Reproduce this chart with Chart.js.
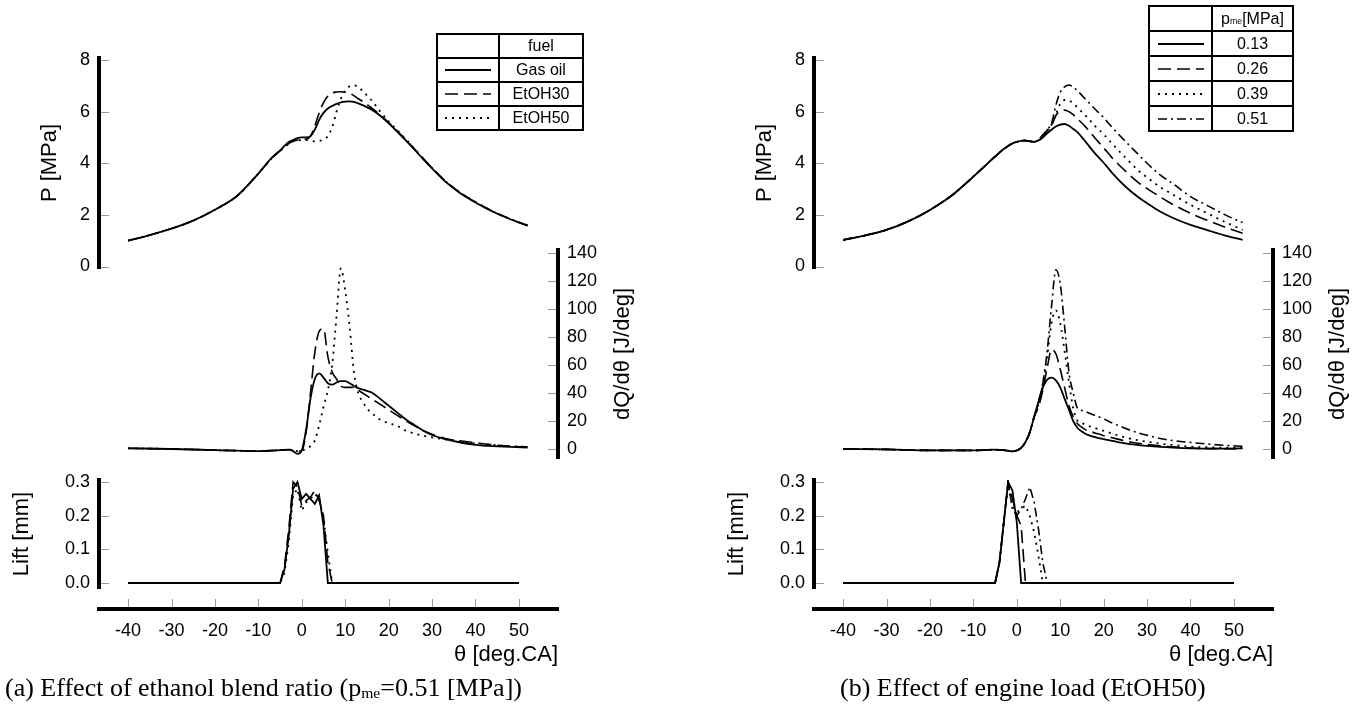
<!DOCTYPE html>
<html>
<head>
<meta charset="utf-8">
<title>Cylinder pressure, heat release and needle lift</title>
<script src="https://cdn.jsdelivr.net/npm/chart.js@4.4.1/dist/chart.umd.min.js"></script>
<style>
  html, body { margin: 0; background: #fff; }
  #page { position: relative; width: 1367px; height: 711px; overflow: hidden; background: #fff; }
  #page canvas { position: absolute; }
  .legend { position: absolute; border-collapse: collapse; font: 16px "Liberation Sans", Arial, sans-serif; color: #000; }
  .legend td { border: 2px solid #000; padding: 0; text-align: center; line-height: 1; }
  .legend svg { display: block; margin: 0 auto; }
  .legend sub { font-size: 0.55em; vertical-align: baseline; position: relative; top: 0.1em; }
  .caption { position: absolute; font: 26px "Liberation Serif", "Times New Roman", serif; white-space: nowrap; color: #000; line-height: 32px; }
  .caption sub { font-size: 0.6em; vertical-align: baseline; position: relative; top: 0.15em; }
</style>
</head>
<body>
<div id="page"></div>
<script>
// ---------- (a) effect of ethanol blend ratio ----------
const fuelsA = ['Gas oil', 'EtOH30', 'EtOH50'];

const thetaA_P = [-40,-35,-30,-25,-20,-15,-10,-7,-5,-3,-2,-1,0,1,2,3,4,5,6,7,8,9,10,11,12,13,14,16,18,20,22,25,28,30,33,36,40,44,48,52];
const pA_GasOil = [1.0,1.22,1.47,1.78,2.2,2.72,3.6,4.2,4.5,4.82,4.9,4.97,5.0,5.0,5.05,5.3,5.68,5.95,6.12,6.22,6.3,6.36,6.39,6.4,6.38,6.32,6.25,6.08,5.85,5.55,5.22,4.7,4.15,3.8,3.3,2.9,2.48,2.12,1.83,1.58];
const pA_EtOH30 = [1.0,1.22,1.47,1.78,2.2,2.72,3.6,4.18,4.48,4.76,4.86,4.9,4.92,4.93,5.05,5.45,5.95,6.35,6.6,6.72,6.76,6.77,6.75,6.7,6.62,6.5,6.4,6.15,5.88,5.58,5.25,4.72,4.18,3.82,3.32,2.92,2.5,2.14,1.84,1.59];
const pA_EtOH50 = [1.0,1.22,1.47,1.78,2.2,2.72,3.6,4.18,4.48,4.75,4.85,4.88,4.9,4.9,4.88,4.85,4.87,4.92,5.05,5.4,6.0,6.5,6.82,6.98,7.02,6.95,6.8,6.45,6.02,5.62,5.28,4.74,4.18,3.82,3.32,2.92,2.5,2.14,1.84,1.59];

const thetaA_Q = [-40,-30,-20,-15,-10,-5,-3,-2,-1,0,1,2,3,4,5,6,7,8,9,10,11,12,13,14,15,16,18,20,22,24,26,28,30,33,36,40,44,48,52];
const qA_GasOil = [0.5,0,-0.8,-1.2,-1.5,-0.8,-0.5,-1.5,-3.5,-1,14,36,50,54,51,47,46,47.5,48.5,48.5,47,45,43.5,42.5,41.5,40.5,36,31,26,21,17,13,10,7,5,3,2,1.5,1];
const qA_EtOH30 = [0.5,0,-0.8,-1.2,-1.5,-0.8,-0.5,-1,-1.5,-1,12,40,69,84,86,66,55,50,45,44,44,44,42,40,38,36,32,28,24,20,16.5,13,10.5,7.5,6,4.5,3,2,1.5];
const qA_EtOH50 = [0.5,0,-0.8,-1.2,-1.5,-0.8,-0.5,-1,-1.5,-1,0,2,6,17,30,42,60,95,129,113,88,55,40,34,29,26,21,18.5,16.5,13,11,9.5,8.3,6.8,5.5,4,3,2,1.5];

const thetaLift = [-40,-5,-4,-3,-2,-1,0,1,2,3,4,5,6,7,50];
const lA_GasOil = [0,0,0.04,0.14,0.28,0.3,0.25,0.265,0.25,0.235,0.26,0.17,0,0,0];
const lA_EtOH30 = [0,0,0.05,0.16,0.3,0.285,0.23,0.245,0.255,0.275,0.245,0.2,0.06,0,0];
const lA_EtOH50 = [0,0,0.03,0.12,0.26,0.28,0.215,0.24,0.25,0.265,0.25,0.19,0.09,0,0];

// ---------- (b) effect of engine load (EtOH50) ----------
const loadsB = ['0.13', '0.26', '0.39', '0.51'];

const thetaB_P = [-40,-35,-30,-25,-20,-15,-10,-7,-5,-3,-1,0,1,2,3,4,5,6,7,8,9,10,11,12,13,14,16,18,20,22,25,28,30,33,36,40,44,48,52];
const pB_013 = [1.03,1.2,1.42,1.75,2.19,2.75,3.48,3.95,4.26,4.55,4.77,4.83,4.87,4.88,4.85,4.83,4.88,5.0,5.16,5.3,5.42,5.5,5.52,5.45,5.33,5.2,4.8,4.38,4.02,3.62,3.1,2.68,2.45,2.13,1.88,1.61,1.4,1.2,1.03];
const pB_026 = [1.03,1.2,1.42,1.75,2.19,2.75,3.48,3.95,4.26,4.55,4.77,4.83,4.87,4.88,4.85,4.83,4.9,5.05,5.25,5.45,5.85,6.02,6.06,6.0,5.88,5.72,5.38,4.98,4.6,4.2,3.7,3.25,3.02,2.7,2.4,2.06,1.78,1.52,1.29];
const pB_039 = [1.03,1.2,1.42,1.75,2.19,2.75,3.48,3.95,4.26,4.55,4.77,4.83,4.87,4.88,4.85,4.83,4.9,5.08,5.3,5.5,5.9,6.3,6.45,6.43,6.32,6.15,5.82,5.45,5.12,4.75,4.22,3.72,3.45,3.08,2.78,2.39,2.05,1.72,1.42];
const pB_051 = [1.03,1.2,1.42,1.75,2.19,2.75,3.48,3.95,4.26,4.55,4.77,4.83,4.87,4.88,4.85,4.83,4.92,5.1,5.3,5.55,6.25,6.75,6.96,7.03,6.95,6.8,6.45,6.1,5.77,5.38,4.85,4.34,4.0,3.55,3.2,2.71,2.35,2.0,1.7];

const thetaB_Q = [-40,-30,-20,-10,-5,-3,-1,0,1,2,3,4,5,6,7,8,9,10,11,12,13,14,15,16,18,20,22,24,26,28,30,33,36,40,44,48,52];
const qB_013 = [0,-0.3,-1,-1,-0.5,-0.8,-1.7,-1,0.8,5,12,23,34,44,49.5,51,49,44,36,28,20,15,12.5,10.5,8.5,7,5.8,4.5,3.5,2.8,2.2,1.5,1,0.5,0.3,0.3,0.5];
const qB_026 = [0,-0.3,-1,-1,-0.5,-0.8,-1.7,-1,0.8,5,12,23,30,42,58,71,68,57,44,31,23,18,15.5,13.5,11.5,9.5,8,6.5,5,4,3.2,2.2,1.5,0.7,0.3,0.2,0];
const qB_039 = [0,-0.3,-1,-1,-0.5,-0.8,-1.7,-1,0.8,5,12,23,32,47,66,90,99,90,70,48,29,20,18.5,17,15,13,11,9,7.5,6.2,5.2,3.8,2.8,1.7,1.2,0.9,0.7];
const qB_051 = [0,-0.3,-1,-1,-0.5,-0.8,-1.7,-1,0.8,5,12,23,33,47,70,102,128,118,88,55,40,29,27.5,26.5,24,21.5,18.5,16,13.5,11.5,9.8,7.5,6,4.7,3.5,2.6,1.9];

const lB_013 = [0,0,0.06,0.18,0.3,0.275,0.18,0,0,0,0,0,0,0,0];
const lB_026 = [0,0,0.06,0.18,0.3,0.25,0.2,0.17,0,0,0,0,0,0,0];
const lB_039 = [0,0,0.06,0.18,0.29,0.23,0.21,0.22,0.23,0.2,0.15,0.08,0,0,0];
const lB_051 = [0,0,0.06,0.18,0.3,0.22,0.2,0.22,0.25,0.285,0.24,0.16,0.06,0,0];

// ---------- axis ticks ----------
const thetaTicks = [-40,-30,-20,-10,0,10,20,30,40,50];
const pTicks = [0,2,4,6,8];
const dqTicks = [0,20,40,60,80,100,120,140];
const liftTicks = [0,0.1,0.2,0.3];

// ---------- setup ----------
const FONT = '"Liberation Sans", Arial, Helvetica, sans-serif';
Chart.defaults.font.family = FONT;
Chart.defaults.color = '#000';

const LINE_STYLES = [
  { dash: [], width: 1.8 },
  { dash: [13, 6], width: 1.6 },
  { dash: [2, 5], width: 1.8 },
  { dash: [9, 4, 2, 4], width: 1.6 }
];
const X_MIN = -46.7, X_MAX = 59;
const TICK_SIZE = 18, TITLE_SIZE = 22;

const page = document.getElementById('page');

function canvasAt(left, top, w, h) {
  const c = document.createElement('canvas');
  c.width = w; c.height = h;
  c.style.left = left + 'px'; c.style.top = top + 'px';
  c.style.width = w + 'px'; c.style.height = h + 'px';
  page.appendChild(c);
  return c;
}

function toSeries(labels, theta, values, smooth) {
  return values.map((arr, k) => ({
    label: labels[k],
    data: theta.map((t, i) => ({ x: t, y: arr[i] })),
    borderColor: '#000',
    borderWidth: LINE_STYLES[k].width,
    borderDash: LINE_STYLES[k].dash,
    pointRadius: 0,
    fill: false,
    tension: smooth ? 0.4 : 0,
    cubicInterpolationMode: smooth ? 'monotone' : 'default'
  }));
}

// short grey tick marks pointing into the plot
const innerTicks = {
  id: 'innerTicks',
  afterDraw(chart) {
    const ctx = chart.ctx;
    ctx.save();
    ctx.strokeStyle = '#9a9a9a';
    ctx.lineWidth = 1;
    Object.values(chart.scales).forEach(s => {
      if (s.options.display === false) return;
      s.ticks.forEach(t => {
        const p = Math.round(s.getPixelForValue(t.value)) + 0.5;
        ctx.beginPath();
        if (s.position === 'left') { ctx.moveTo(s.right + 2, p); ctx.lineTo(s.right + 10, p); }
        else if (s.position === 'right') { ctx.moveTo(s.left - 2, p); ctx.lineTo(s.left - 10, p); }
        else { ctx.moveTo(p, s.top - 2); ctx.lineTo(p, s.top - 10); }
        ctx.stroke();
      });
    });
    ctx.restore();
  }
};

// right-hand axis title that reads bottom to top
const flipTitle = {
  id: 'flipTitle',
  afterDraw(chart, args, opts) {
    if (!opts.text) return;
    const s = chart.scales.y;
    const ctx = chart.ctx;
    ctx.save();
    ctx.font = opts.size + 'px ' + FONT;
    ctx.fillStyle = '#000';
    ctx.textAlign = 'center';
    ctx.textBaseline = 'middle';
    ctx.translate(s.left + opts.offset, (s.top + s.bottom) / 2);
    ctx.rotate(-Math.PI / 2);
    ctx.fillText(opts.text, 0, 0);
    ctx.restore();
  }
};

const hiddenX = { type: 'linear', min: X_MIN, max: X_MAX, display: false };

function yScale({ pos, min, max, ticks, fmt, width, title, titlePad }) {
  return {
    type: 'linear', position: pos, min, max,
    afterBuildTicks: s => { s.ticks = ticks.map(v => ({ value: v })); },
    afterFit: s => { s.width = width; },
    grid: { display: false, drawTicks: false },
    border: { display: true, width: 4, color: '#000' },
    ticks: { padding: 9, font: { size: TICK_SIZE }, color: '#000', callback: fmt },
    title: title
      ? { display: true, text: title, font: { size: TITLE_SIZE }, padding: { top: titlePad, bottom: 0 }, color: '#000' }
      : { display: false }
  };
}

function baseOptions(padding, scales, pluginOpts) {
  return {
    responsive: false,
    animation: false,
    devicePixelRatio: 1,
    layout: { padding },
    plugins: Object.assign({ legend: { display: false }, tooltip: { enabled: false } }, pluginOpts || {}),
    scales
  };
}

function drawPanel(dx, P, Q, L) {
  // cylinder pressure
  new Chart(canvasAt(dx, 0, 600, 300), {
    type: 'line',
    data: { datasets: P },
    options: baseOptions({ top: 58, bottom: 32, left: 0, right: 42 }, {
      x: hiddenX,
      y: yScale({ pos: 'left', min: -0.058, max: 8.0775, ticks: pTicks, fmt: v => String(v), width: 99, title: 'P [MPa]', titlePad: 37 })
    }),
    plugins: [innerTicks]
  });

  // heat release rate
  new Chart(canvasAt(dx, 220, 648, 268), {
    type: 'line',
    data: { datasets: Q },
    options: baseOptions({ top: 30, bottom: 30, left: 99, right: 0 }, {
      x: hiddenX,
      y: yScale({ pos: 'right', min: -6.43, max: 142.14, ticks: dqTicks, fmt: v => String(v), width: 90 })
    }, { flipTitle: { text: 'dQ/dθ [J/deg]', offset: 65, size: TITLE_SIZE } }),
    plugins: [innerTicks, flipTitle]
  });

  // needle lift
  new Chart(canvasAt(dx, 450, 600, 168), {
    type: 'line',
    data: { datasets: L },
    options: baseOptions({ top: 30, bottom: 30, left: 0, right: 42 }, {
      x: hiddenX,
      y: yScale({ pos: 'left', min: -0.01485, max: 0.306, ticks: liftTicks, fmt: v => v.toFixed(1), width: 99, title: 'Lift [mm]', titlePad: 9 })
    }),
    plugins: [innerTicks]
  });

  // shared crank angle axis
  new Chart(canvasAt(dx, 590, 600, 80), {
    type: 'line',
    data: { datasets: [] },
    options: baseOptions({ top: 10, bottom: 0, left: 99, right: 42 }, {
      x: {
        type: 'linear', position: 'bottom', min: X_MIN, max: X_MAX,
        afterBuildTicks: s => { s.ticks = thetaTicks.map(v => ({ value: v })); },
        afterFit: s => { s.height = 61; },
        grid: { display: false, drawTicks: false },
        border: { display: true, width: 4, color: '#000' },
        ticks: { padding: 11, font: { size: TICK_SIZE }, color: '#000', maxRotation: 0, autoSkip: false },
        title: { display: true, text: 'θ [deg.CA]', align: 'end', font: { size: TITLE_SIZE }, padding: { top: 0, bottom: 2 }, color: '#000' }
      },
      y: { type: 'linear', display: false, min: 0, max: 1 }
    }),
    plugins: [innerTicks]
  });
}

function legendTable(left, top, colW, rowH, head, labels) {
  const t = document.createElement('table');
  t.className = 'legend';
  t.style.left = left + 'px';
  t.style.top = top + 'px';
  let html = '<tr style="height:' + rowH + 'px"><td style="width:' + colW[0] + 'px"></td><td style="width:' + colW[1] + 'px">' + head + '</td></tr>';
  labels.forEach((lab, k) => {
    const st = LINE_STYLES[k];
    html += '<tr style="height:' + rowH + 'px"><td><svg width="46" height="6"><line x1="0" y1="3" x2="46" y2="3" stroke="#000" stroke-width="' +
      st.width + '" stroke-dasharray="' + st.dash.join(' ') + '"/></svg></td><td>' + lab + '</td></tr>';
  });
  t.innerHTML = html;
  page.appendChild(t);
}

function caption(left, top, html) {
  const d = document.createElement('div');
  d.className = 'caption';
  d.style.left = left + 'px';
  d.style.top = top + 'px';
  d.innerHTML = html;
  page.appendChild(d);
}

drawPanel(0,
  toSeries(fuelsA, thetaA_P, [pA_GasOil, pA_EtOH30, pA_EtOH50], true),
  toSeries(fuelsA, thetaA_Q, [qA_GasOil, qA_EtOH30, qA_EtOH50], true),
  toSeries(fuelsA, thetaLift, [lA_GasOil, lA_EtOH30, lA_EtOH50], false));

drawPanel(715,
  toSeries(loadsB, thetaB_P, [pB_013, pB_026, pB_039, pB_051], true),
  toSeries(loadsB, thetaB_Q, [qB_013, qB_026, qB_039, qB_051], true),
  toSeries(loadsB, thetaLift, [lB_013, lB_026, lB_039, lB_051], false));

legendTable(436, 33, [60, 82], 24, 'fuel', fuelsA);
legendTable(1148, 5, [61, 79], 25, 'p<sub>me</sub>[MPa]', loadsB);

caption(5, 672, '(a) Effect of ethanol blend ratio (p<sub>me</sub>=0.51 [MPa])');
caption(840, 672, '(b) Effect of engine load (EtOH50)');
</script>
</body>
</html>
